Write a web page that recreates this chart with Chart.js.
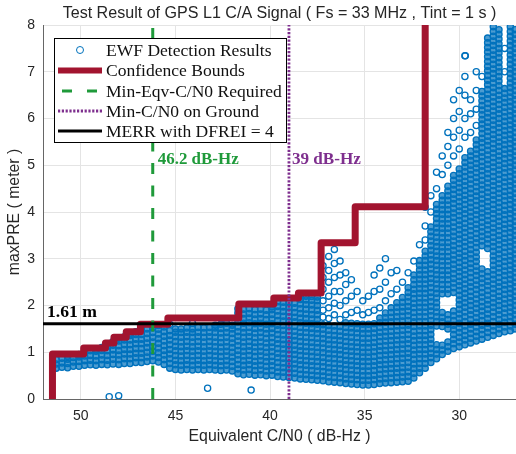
<!DOCTYPE html>
<html>
<head>
<meta charset="utf-8">
<script src="https://cdn.jsdelivr.net/npm/chart.js@4.4.1/dist/chart.umd.min.js"></script>
<style>
  html, body { margin: 0; padding: 0; background: #fff; }
  #chart { display: block; }
</style>
</head>
<body>
<canvas id="chart" width="516" height="454"></canvas>
<script>
// axis ticks
const xTicks = [30, 35, 40, 45, 50];
const yTicks = [0, 1, 2, 3, 4, 5, 6, 7, 8];

// EWF detection results (main band, high C/N0)
const mainX = [51.3, 51.0, 50.7, 50.4, 50.1, 49.8, 49.5, 49.2, 48.9, 48.6, 48.3, 48.0, 47.7, 47.4, 47.1, 46.8, 46.5, 46.2, 45.9, 45.6, 45.3, 45.0, 44.7, 44.4, 44.1, 43.8, 43.5, 43.2, 42.9, 42.6, 42.3, 42.0, 41.7, 41.4, 41.1, 40.8, 40.5, 40.2, 39.9, 39.6, 39.3, 39.0, 38.7, 38.4, 38.1, 37.8, 37.5, 37.2, 36.9, 36.6, 36.3, 36.0, 35.7, 35.4, 35.1, 34.8, 34.5];
const mainY = [
  [0.66,0.75,0.84],
  [0.68,0.77,0.87],
  [0.67,0.76,0.85,0.91],
  [0.7,0.79,0.89],
  [0.7,0.8,0.9,0.95],
  [0.72,0.82,0.92,1.0],
  [0.73,0.83,0.93,1.03],
  [0.72,0.82,0.92,1.02,1.06],
  [0.74,0.84,0.94,1.04,1.1],
  [0.73,0.83,0.93,1.03,1.13,1.18],
  [0.75,0.85,0.95,1.05,1.15,1.23],
  [0.74,0.84,0.94,1.04,1.14,1.24,1.3],
  [0.76,0.86,0.96,1.06,1.16,1.26,1.33],
  [0.76,0.86,0.96,1.06,1.16,1.26,1.36,1.4],
  [0.78,0.88,0.98,1.08,1.18,1.28,1.38,1.44],
  [0.78,0.88,0.98,1.08,1.18,1.28,1.38,1.48,1.53],
  [0.8,0.9,1.0,1.1,1.2,1.3,1.4,1.5],
  [0.82,0.92,1.02,1.12,1.22,1.32,1.42,1.52,1.58],
  [0.79,0.89,0.99,1.09,1.19,1.29,1.39,1.49,1.57],
  [0.74,0.84,0.94,1.04,1.14,1.24,1.34,1.44,1.54],
  [0.66,0.76,0.86,0.96,1.06,1.16,1.26,1.36,1.46,1.6],
  [0.63,0.73,0.83,0.93,1.03,1.13,1.23,1.33,1.43,1.5],
  [0.62,0.72,0.82,0.92,1.02,1.12,1.22,1.32,1.42,1.5],
  [0.63,0.73,0.83,0.93,1.03,1.13,1.23,1.33,1.43,1.52],
  [0.62,0.72,0.82,0.92,1.02,1.12,1.22,1.32,1.42,1.5,1.62],
  [0.63,0.73,0.83,0.93,1.03,1.13,1.23,1.33,1.43,1.53],
  [0.62,0.72,0.82,0.92,1.02,1.12,1.22,1.32,1.42,1.52],
  [0.63,0.73,0.83,0.93,1.03,1.13,1.23,1.33,1.43,1.53],
  [0.62,0.72,0.82,0.92,1.02,1.12,1.22,1.32,1.42,1.52,1.58],
  [0.61,0.71,0.81,0.91,1.01,1.11,1.21,1.31,1.41,1.51,1.6],
  [0.62,0.72,0.82,0.92,1.02,1.12,1.22,1.32,1.42,1.52,1.62],
  [0.6,0.7,0.8,0.9,1.0,1.1,1.2,1.3,1.4,1.5,1.58],
  [0.54,0.64,0.74,0.84,0.94,1.04,1.14,1.24,1.34,1.44,1.54,1.64,1.74,1.84,1.93],
  [0.52,0.62,0.72,0.82,0.92,1.02,1.12,1.22,1.32,1.42,1.52,1.62,1.72,1.82,1.92],
  [0.53,0.63,0.73,0.83,0.93,1.03,1.13,1.23,1.33,1.43,1.53,1.63,1.73,1.83,1.93],
  [0.51,0.61,0.71,0.81,0.91,1.01,1.11,1.21,1.31,1.41,1.51,1.61,1.71,1.81,1.91],
  [0.52,0.62,0.72,0.82,0.92,1.02,1.12,1.22,1.32,1.42,1.52,1.62,1.72,1.82,1.92],
  [0.5,0.6,0.7,0.8,0.9,1.0,1.1,1.2,1.3,1.4,1.5,1.6,1.7,1.8,1.9],
  [0.51,0.61,0.71,0.81,0.91,1.01,1.11,1.21,1.31,1.41,1.51,1.61,1.71,1.81,1.91,1.97],
  [0.48,0.58,0.68,0.78,0.88,0.98,1.08,1.18,1.28,1.38,1.48,1.58,1.68,1.78,1.88,1.98,2.08],
  [0.47,0.57,0.67,0.77,0.87,0.97,1.07,1.17,1.27,1.37,1.47,1.57,1.67,1.77,1.87,1.97,2.07],
  [0.46,0.56,0.66,0.76,0.86,0.96,1.06,1.16,1.26,1.36,1.46,1.56,1.66,1.76,1.86,1.96,2.06],
  [0.45,0.55,0.65,0.75,0.85,0.95,1.05,1.15,1.25,1.35,1.45,1.55,1.65,1.75,1.85,1.95,2.05],
  [0.43,0.53,0.63,0.73,0.83,0.93,1.03,1.13,1.23,1.33,1.43,1.53,1.63,1.73,1.83,1.93,2.03,2.13,2.2],
  [0.42,0.52,0.62,0.72,0.82,0.92,1.02,1.12,1.22,1.32,1.42,1.52,1.62,1.72,1.82,1.92,2.02,2.12,2.2],
  [0.41,0.51,0.61,0.71,0.81,0.91,1.01,1.11,1.21,1.31,1.41,1.51,1.61,1.71,1.81,1.91,2.01,2.11,2.19],
  [0.4,0.5,0.6,0.7,0.8,0.9,1.0,1.1,1.2,1.3,1.4,1.5,1.6,1.7,1.8,1.9,2.0,2.1,2.18],
  [0.39,0.49,0.59,0.69,0.79,0.89,0.99,1.09,1.19,1.29,1.39,1.49,1.59,1.75,1.9,2.1,2.35,2.6,2.85],
  [0.37,0.47,0.57,0.67,0.77,0.87,0.97,1.07,1.17,1.27,1.37,1.47,1.57,1.72,1.95,2.2,2.5,2.75,3.05],
  [0.36,0.46,0.56,0.66,0.76,0.86,0.96,1.06,1.16,1.26,1.36,1.46,1.56,1.8,2.05,2.3,2.6,2.9,3.2],
  [0.35,0.45,0.55,0.65,0.75,0.85,0.95,1.05,1.15,1.25,1.35,1.45,1.55,1.7,2.0,2.3,2.65,2.95],
  [0.33,0.43,0.53,0.63,0.73,0.83,0.93,1.03,1.13,1.23,1.33,1.43,1.53,1.63,1.8,2.1,2.45,2.7],
  [0.32,0.42,0.52,0.62,0.72,0.82,0.92,1.02,1.12,1.22,1.32,1.42,1.52,1.62,1.85,2.2,2.55],
  [0.31,0.41,0.51,0.61,0.71,0.81,0.91,1.01,1.11,1.21,1.31,1.41,1.51,1.61,1.9,2.3],
  [0.3,0.4,0.5,0.6,0.7,0.8,0.9,1.0,1.1,1.2,1.3,1.4,1.5,1.6,1.8,2.1],
  [0.3,0.4,0.5,0.6,0.7,0.8,0.9,1.0,1.1,1.2,1.3,1.4,1.5,1.6,1.85,2.2],
  [0.31,0.41,0.51,0.61,0.71,0.81,0.91,1.01,1.11,1.21,1.31,1.41,1.51,1.61,1.9,2.3,2.65]
];

// EWF detection results, low C/N0 funnel on the right
const rightX = [34.2, 33.9, 33.6, 33.3, 33.0, 32.7, 32.4, 32.1, 31.8, 31.5, 31.2, 30.9, 30.6, 30.3, 30.0, 29.7, 29.4, 29.1, 28.8, 28.5, 28.2, 27.9, 27.6, 27.3, 27.05];
const rightY = [
  [0.33,0.43,0.53,0.63,0.73,0.83,0.93,1.03,1.13,1.23,1.33,1.43,1.53,1.63,1.73,1.95,2.35,2.8],
  [0.34,0.44,0.54,0.64,0.74,0.84,0.94,1.04,1.14,1.24,1.34,1.44,1.54,1.64,1.74,1.84,2.1,2.5,3.0],
  [0.35,0.45,0.55,0.65,0.75,0.85,0.95,1.05,1.15,1.25,1.35,1.45,1.55,1.65,1.75,1.85,1.95,2.25,2.7],
  [0.36,0.46,0.56,0.66,0.76,0.86,0.96,1.06,1.16,1.26,1.36,1.46,1.56,1.66,1.76,1.86,1.96,2.06,2.35,2.75],
  [0.37,0.47,0.57,0.67,0.77,0.87,0.97,1.07,1.17,1.27,1.37,1.47,1.57,1.67,1.77,1.87,1.97,2.07,2.17,2.5],
  [0.38,0.48,0.58,0.68,0.78,0.88,0.98,1.08,1.18,1.28,1.38,1.48,1.58,1.68,1.78,1.88,1.98,2.08,2.18,2.28,2.38,2.7],
  [0.45,0.55,0.65,0.75,0.85,0.95,1.05,1.15,1.25,1.35,1.45,1.55,1.65,1.75,1.85,1.95,2.05,2.15,2.25,2.35,2.45,2.55,2.65,2.95],
  [0.56,0.66,0.76,0.86,0.96,1.06,1.16,1.26,1.36,1.46,1.56,1.66,1.76,1.86,1.96,2.06,2.16,2.26,2.36,2.46,2.56,2.66,2.76,2.86,2.96,3.3],
  [0.66,0.76,0.86,0.96,1.06,1.16,1.26,1.36,1.46,1.56,1.66,1.76,1.86,1.96,2.06,2.16,2.26,2.36,2.46,2.56,2.66,2.76,2.86,2.96,3.06,3.16,3.4,3.7,4.1],
  [0.78,0.88,0.98,1.08,1.18,1.28,1.38,1.48,1.58,1.68,1.78,1.88,1.98,2.08,2.18,2.28,2.38,2.48,2.58,2.68,2.78,2.88,2.98,3.08,3.18,3.28,3.38,3.48,3.58,3.68,4.0,4.35],
  [0.86,0.96,1.06,1.16,1.56,1.66,1.76,1.86,1.96,2.06,2.16,2.26,2.36,2.46,2.56,2.66,2.76,2.86,2.96,3.06,3.16,3.26,3.36,3.46,3.56,3.66,3.76,3.86,3.96,4.06,4.16,4.5,4.85],
  [0.95,1.05,1.15,1.55,1.65,1.75,1.85,2.25,2.35,2.45,2.55,2.65,2.75,2.85,2.95,3.05,3.15,3.25,3.35,3.45,3.55,3.65,3.75,3.85,3.95,4.05,4.15,4.25,4.35,4.8,5.2],
  [1.02,1.12,1.22,1.5,1.6,1.7,1.8,2.25,2.35,2.45,2.55,2.65,2.75,2.85,2.95,3.05,3.15,3.25,3.35,3.45,3.55,3.65,3.75,3.85,3.95,4.05,4.15,4.25,4.35,4.45,4.55,5.0,5.4,5.7],
  [1.08,1.18,1.28,1.38,1.48,1.58,1.68,1.78,1.88,2.28,2.38,2.48,2.58,2.68,2.78,2.88,2.98,3.08,3.18,3.28,3.38,3.48,3.58,3.68,3.78,3.88,3.98,4.08,4.18,4.28,4.38,4.48,4.58,4.68,4.78,5.2,5.6,6.0,6.4],
  [1.12,1.22,1.32,1.42,1.52,1.62,1.72,1.82,1.92,2.02,2.12,2.22,2.32,2.42,2.52,2.62,2.72,2.82,2.92,3.02,3.12,3.22,3.32,3.42,3.52,3.62,3.72,3.82,3.92,4.02,4.12,4.22,4.32,4.42,4.52,4.62,4.72,4.82,4.92,5.35,5.75,6.15,6.6],
  [1.16,1.26,1.36,1.46,1.56,1.66,1.76,1.86,1.96,2.06,2.16,2.26,2.36,2.46,2.56,2.66,2.76,2.86,2.96,3.06,3.16,3.26,3.36,3.46,3.56,3.66,3.76,3.86,3.96,4.06,4.16,4.26,4.36,4.46,4.56,4.66,4.76,4.86,4.96,5.06,5.16,5.6,6.0,6.5,6.9,7.34],
  [1.2,1.3,1.4,1.5,1.6,1.7,1.8,1.9,2.0,2.1,2.2,2.3,2.4,2.5,2.6,2.7,2.8,2.9,3.0,3.1,3.2,3.3,3.4,3.5,3.6,3.7,3.8,3.9,4.0,4.1,4.2,4.3,4.4,4.5,4.6,4.7,4.8,4.9,5.0,5.1,5.2,5.3,5.7,6.1,6.4],
  [1.24,1.34,1.44,1.54,1.64,1.74,1.84,1.94,2.04,2.14,2.24,2.34,2.44,2.54,2.64,2.74,2.84,2.94,3.04,3.14,3.24,3.34,3.44,3.54,3.64,3.74,3.84,3.94,4.04,4.14,4.24,4.34,4.44,4.54,4.64,4.74,4.84,4.94,5.04,5.14,5.24,5.34,5.44,5.54,5.85,6.2,6.6,7.0],
  [1.28,1.38,1.48,1.58,1.68,1.78,1.88,1.98,2.08,2.18,2.28,2.38,2.48,2.58,2.68,2.78,3.28,3.38,3.48,3.58,3.68,3.78,3.88,3.98,4.08,4.18,4.28,4.38,4.48,4.58,4.68,4.78,4.88,4.98,5.08,5.18,5.28,5.38,5.48,5.58,5.68,5.78,5.88,5.98,6.08,6.18,6.28,6.38,6.48,6.58,6.9],
  [1.32,1.42,1.52,1.62,1.72,1.82,1.92,2.02,2.12,2.22,2.32,2.42,2.52,2.62,2.72,3.22,3.32,3.42,3.52,3.62,3.72,3.82,3.92,4.02,4.12,4.22,4.32,4.42,4.52,4.62,4.72,4.82,4.92,5.02,5.12,5.22,5.32,5.42,5.52,5.62,5.72,5.82,5.92,6.02,6.12,6.22,6.32,6.42,6.52,6.62,6.72,6.82,6.92,7.02,7.12,7.22,7.32,7.42,7.52,7.62,7.72],
  [1.36,1.46,1.56,1.66,1.76,1.86,1.96,2.06,2.16,2.26,2.36,2.46,2.56,2.66,2.76,2.86,2.96,3.06,3.16,3.26,3.36,3.46,3.56,3.66,3.76,3.86,3.96,4.06,4.16,4.26,4.36,4.46,4.56,4.66,4.76,4.86,4.96,5.06,5.16,5.26,5.36,5.46,5.56,5.66,5.76,5.86,5.96,6.06,6.16,6.26,6.36,6.46,6.56,6.66,6.76,6.86,6.96,7.06,7.16,7.26,7.36,7.46,7.56,7.66,7.76,7.86,7.96],
  [1.4,1.5,1.6,1.7,1.8,1.9,2.0,2.1,2.2,2.3,2.4,2.5,2.6,2.7,2.8,2.9,3.0,3.1,3.2,3.3,3.4,3.5,3.6,3.7,3.8,3.9,4.0,4.1,4.2,4.3,4.4,4.5,4.6,4.7,4.8,4.9,5.0,5.1,5.2,5.3,5.4,5.5,5.6,5.7,5.8,5.9,6.0,6.1,6.2,6.3,6.4,6.5,6.6,6.7,6.8,6.9,7.0,7.1,7.2,7.3,7.4,7.5,7.6,7.7,7.8,7.9],
  [1.44,1.54,1.64,1.74,1.84,1.94,2.04,2.14,2.24,2.34,2.44,2.54,2.64,2.74,2.84,2.94,3.04,3.14,3.24,3.34,3.44,3.54,3.64,3.74,3.84,3.94,4.04,4.14,4.24,4.34,4.44,4.54,4.64,4.74,4.84,4.94,5.04,5.14,5.24,5.34,5.44,5.54,5.64,5.74,5.84,5.94,6.04,6.14,6.24,6.34,6.44,6.54,6.64,7.0,7.5],
  [1.46,1.56,1.66,1.76,1.86,1.96,2.06,2.16,2.26,2.36,2.46,2.56,2.66,2.76,2.86,2.96,3.06,3.16,3.26,3.36,3.46,3.56,3.66,3.76,3.86,3.96,4.06,4.16,4.26,4.36,4.46,4.56,4.66,4.76,4.86,4.96,5.06,5.16,5.26,5.36,5.46,5.56,5.66,5.76,5.86,5.96,6.06,6.16,6.26,6.36,6.46,6.56,6.66,6.76,6.86,6.96,7.06,7.16,7.26,7.36,7.46,7.56,7.66,7.76,7.86,7.96],
  [1.5,1.6,1.7,1.8,1.9,2.0,2.1,2.2,2.3,2.4,2.5,2.6,2.7,2.8,2.9,3.0,3.1,3.2,3.3,3.4,3.5,3.6,3.7,3.8,3.9,4.0,4.1,4.2,4.3,4.4,4.5,4.6,4.7,4.8,4.9,5.0,5.1,5.2,5.3,5.4,5.5,5.6,5.7,5.8,5.9,6.0,6.1,6.2,6.3,6.4,6.5,6.6,6.7,6.8,6.9,7.0,7.1,7.2,7.3,7.4,7.5,7.6,7.7,7.8,7.9]
];

// isolated detections
const outlierX = [48.5, 48.0, 43.3, 41.0, 29.68];
const outlierY = [0.05, 0.07, 0.23, 0.19, 7.34];

// confidence bound (stair)
const boundX = [51.5, 51.5, 49.85, 49.85, 48.7, 48.7, 48.25, 48.25, 47.6, 47.6, 46.85, 46.85, 45.4, 45.4, 41.65, 41.65, 39.8, 39.8, 38.5, 38.5, 37.3, 37.3, 35.5, 35.5, 31.8, 31.8];
const boundY = [0, 0.96, 0.96, 1.09, 1.09, 1.2, 1.2, 1.32, 1.32, 1.44, 1.44, 1.6, 1.6, 1.73, 1.73, 2.03, 2.03, 2.16, 2.16, 2.27, 2.27, 3.34, 3.34, 4.11, 4.11, 8];

// reference lines
const minEqvCN0 = 46.2;
const minCN0Ground = 39;
const merrLimit = 1.61;

const BLUE = '#0072BD';
const RED = '#A2142F';
const GREEN = '#1F9A3A';
const PURPLE = '#7E2F8E';
const SANS = "'Liberation Sans', Arial, sans-serif";
const SERIF = "'Liberation Serif', 'Times New Roman', serif";

// points packed closely in a column overlap into a solid cloud; loose ones stay hollow
const ewfPoints = [];
function addColumn(x, ys) {
  ys.forEach((y, k) => {
    const near = (k > 0 && y - ys[k - 1] < 0.115) || (k < ys.length - 1 && ys[k + 1] - y < 0.115);
    ewfPoints.push({ x, y, dense: near });
  });
}
mainX.forEach((x, i) => addColumn(x, mainY[i]));
rightX.forEach((x, i) => addColumn(x, rightY[i]));
outlierX.forEach((x, i) => ewfPoints.push({ x, y: outlierY[i], dense: false }));

const boundPoints = boundX.map((x, i) => ({ x, y: boundY[i] }));

// fit a font so the text spans a given width
function fitFont(ctx, text, width, weight, family) {
  ctx.font = `${weight} 100px ${family}`;
  const w = ctx.measureText(text).width;
  return `${weight} ${(100 * width / w).toFixed(2)}px ${family}`;
}

const textPlugin = {
  id: 'texts',
  afterDraw(chart) {
    const ctx = chart.ctx;
    const area = chart.chartArea;
    const xs = chart.scales.x, ys = chart.scales.y;
    ctx.save();

    // title + axis titles
    ctx.fillStyle = '#262626';
    ctx.textAlign = 'center';
    ctx.textBaseline = 'middle';
    const title = 'Test Result of GPS L1 C/A Signal ( Fs = 33 MHz , Tint = 1 s )';
    ctx.font = fitFont(ctx, title, 434, 'normal', SANS);
    ctx.fillText(title, (area.left + area.right) / 2, 14);

    const xTitle = 'Equivalent C/N0 ( dB-Hz )';
    const axisFont = fitFont(ctx, xTitle, 182, 'normal', SANS);
    ctx.font = axisFont;
    ctx.fillText(xTitle, (area.left + area.right) / 2, 437);

    ctx.save();
    ctx.translate(15, (area.top + area.bottom) / 2);
    ctx.rotate(-Math.PI / 2);
    ctx.font = axisFont;
    ctx.fillText('maxPRE ( meter )', 0, 0);
    ctx.restore();

    // annotations
    ctx.textAlign = 'left';
    ctx.font = fitFont(ctx, '46.2 dB-Hz', 81, 'bold', SERIF);
    ctx.fillStyle = GREEN;
    ctx.fillText('46.2 dB-Hz', xs.getPixelForValue(minEqvCN0) + 5, 160);
    ctx.font = fitFont(ctx, '39 dB-Hz', 69, 'bold', SERIF);
    ctx.fillStyle = PURPLE;
    ctx.fillText('39 dB-Hz', xs.getPixelForValue(minCN0Ground) + 3, 160);
    ctx.font = fitFont(ctx, '1.61 m', 50, 'bold', SERIF);
    ctx.fillStyle = '#000';
    ctx.fillText('1.61 m', 47, ys.getPixelForValue(merrLimit) - 11);

    // legend
    const lx = 54.5, ly = 38.5, lw = 232, lh = 104;
    ctx.fillStyle = '#fff';
    ctx.fillRect(lx, ly, lw, lh);
    ctx.strokeStyle = '#000';
    ctx.lineWidth = 1;
    ctx.strokeRect(lx, ly, lw, lh);

    const rows = [50, 70.5, 91, 111, 131];
    const labels = ['EWF Detection Results', 'Confidence Bounds', 'Min-Eqv-C/N0 Required', 'Min-C/N0 on Ground', 'MERR with DFREI = 4'];

    ctx.strokeStyle = BLUE;
    ctx.lineWidth = 1;
    ctx.beginPath();
    ctx.arc(80, rows[0], 3.5, 0, Math.PI * 2);
    ctx.stroke();

    function seg(y, color, width, dash, x0, x1) {
      ctx.beginPath();
      ctx.strokeStyle = color;
      ctx.lineWidth = width;
      ctx.setLineDash(dash);
      ctx.moveTo(x0, y);
      ctx.lineTo(x1, y);
      ctx.stroke();
      ctx.setLineDash([]);
    }
    seg(rows[1], RED, 6, [], 58, 102);
    seg(rows[2], GREEN, 3, [10, 15], 62, 97);
    seg(rows[3], PURPLE, 2.8, [2.2, 1.6], 58, 102);
    seg(rows[4], '#000', 3, [], 58, 102);

    ctx.fillStyle = '#111';
    ctx.textAlign = 'left';
    ctx.font = fitFont(ctx, labels[2], 176, 'normal', SERIF);
    labels.forEach((t, i) => ctx.fillText(t, 106, rows[i] + 1));

    ctx.restore();
  }
};

new Chart(document.getElementById('chart'), {
  type: 'scatter',
  data: {
    datasets: [
      {
        label: 'EWF Detection Results',
        data: ewfPoints,
        pointRadius: 3.1,
        pointBorderWidth: 1.3,
        pointBackgroundColor: c => (c.raw && c.raw.dense) ? 'rgba(0,114,189,0.7)' : 'rgba(0,0,0,0)',
        pointBorderColor: BLUE,
        showLine: false,
        order: 5
      },
      {
        label: 'Confidence Bounds',
        data: boundPoints,
        showLine: true,
        pointRadius: 0,
        borderColor: RED,
        borderWidth: 7,
        borderJoinStyle: 'round',
        clip: 0,
        order: 4
      },
      {
        label: 'Min-Eqv-C/N0 Required',
        data: [{ x: minEqvCN0, y: 0 }, { x: minEqvCN0, y: 8 }],
        showLine: true,
        pointRadius: 0,
        borderColor: GREEN,
        borderWidth: 3,
        borderDash: [11, 11.5],
        clip: 0,
        order: 3
      },
      {
        label: 'Min-C/N0 on Ground',
        data: [{ x: minCN0Ground, y: 0 }, { x: minCN0Ground, y: 8 }],
        showLine: true,
        pointRadius: 0,
        borderColor: PURPLE,
        borderWidth: 2.8,
        borderDash: [2.2, 1.6],
        clip: 0,
        order: 2
      },
      {
        label: 'MERR with DFREI = 4',
        data: [{ x: 52, y: merrLimit }, { x: 27, y: merrLimit }],
        showLine: true,
        pointRadius: 0,
        borderColor: '#000',
        borderWidth: 3,
        clip: 0,
        order: 1
      }
    ]
  },
  options: {
    responsive: false,
    animation: false,
    events: [],
    layout: { autoPadding: false, padding: { top: 25, left: 0, right: 0, bottom: 0 } },
    plugins: {
      legend: { display: false },
      title: { display: false },
      tooltip: { enabled: false }
    },
    scales: {
      x: {
        type: 'linear',
        reverse: true,
        min: 27,
        max: 52,
        afterBuildTicks: s => { s.ticks = xTicks.map(v => ({ value: v })); },
        afterFit: s => { s.height = 55; },
        grid: { color: '#e4e4e4', drawTicks: false },
        border: { color: '#666', width: 1 },
        ticks: { color: '#262626', font: { family: SANS, size: 14 }, padding: 9, maxRotation: 0 }
      },
      y: {
        type: 'linear',
        min: 0,
        max: 8,
        afterBuildTicks: s => { s.ticks = yTicks.map(v => ({ value: v })); },
        afterFit: s => { s.width = 43; },
        grid: { color: '#e4e4e4', drawTicks: false },
        border: { color: '#666', width: 1 },
        ticks: { color: '#262626', font: { family: SANS, size: 14 }, padding: 8 }
      }
    }
  },
  plugins: [textPlugin]
});
</script>
</body>
</html>
